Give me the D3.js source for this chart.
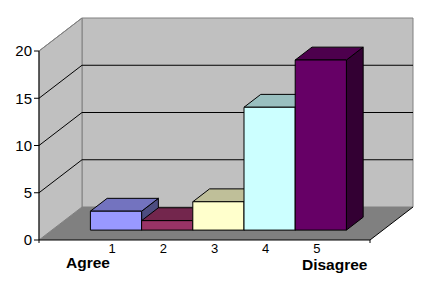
<!DOCTYPE html>
<html>
<head>
<meta charset="utf-8">
<script src="https://cdn.jsdelivr.net/npm/d3@7"></script>
<style>
  body { margin: 0; background: #fff; }
  svg { display: block; font-family: "Liberation Sans", Arial, sans-serif; }
</style>
</head>
<body>
<div class="graph"></div>
<script>
// chart data
var categories = ["1", "2", "3", "4", "5"];
var values = [2, 1, 3, 13, 18];
var barColors = ["#9999ff", "#993366", "#ffffcc", "#ccffff", "#660066"];
var yTicks = [0, 5, 10, 15, 20];
var endLabels = ["Agree", "Disagree"];

var width = 447, height = 288;

// 3d box: front plane of the floor, plus a depth offset
var depth = {dx: 43, dy: -33};
var floorLeft = 39, floorRight = 370;

// value scale on the front plane
var y = d3.scaleLinear().domain([0, 20]).range([240, 51]);

// categories on the front plane
var x = d3.scaleBand().domain(categories).range([77.5, 333.5]).paddingInner(0);

// bars sit in the middle of the floor depth
var barFront = 0.3, barBack = 0.69;

function pt(px, v, d) {
  return [px + d * depth.dx, y(v) + d * depth.dy];
}
function poly(points) {
  return points.map(function(p) { return p.join(","); }).join(" ");
}
function shade(c, f) {
  var r = d3.rgb(c);
  return d3.rgb(r.r * f, r.g * f, r.b * f);
}

var svg = d3.select(".graph").append("svg")
    .attr("width", width)
    .attr("height", height);

// back wall
svg.append("polygon")
    .attr("points", poly([pt(floorLeft, 0, 1), pt(floorLeft, 20, 1),
                          pt(floorRight, 20, 1), pt(floorRight, 0, 1)]))
    .style("fill", "#c0c0c0")
    .style("stroke", "#808080");

// side wall
svg.append("polygon")
    .attr("points", poly([pt(floorLeft, 0, 0), pt(floorLeft, 20, 0),
                          pt(floorLeft, 20, 1), pt(floorLeft, 0, 1)]))
    .style("fill", "#c0c0c0")
    .style("stroke", "#808080");

// floor
svg.append("polygon")
    .attr("points", poly([pt(floorLeft, 0, 0), pt(floorRight, 0, 0),
                          pt(floorRight, 0, 1), pt(floorLeft, 0, 1)]))
    .style("fill", "#808080");

// gridlines
yTicks.filter(function(t) { return t > 0 && t < 20; }).forEach(function(t) {
  svg.append("polyline")
      .attr("points", poly([pt(floorLeft, t, 0), pt(floorLeft, t, 1), pt(floorRight, t, 1)]))
      .style("fill", "none")
      .style("stroke", "#000")
      .style("stroke-width", 1);
});

// the bars, left to right (side, top, front)
categories.forEach(function(c, i) {
  var x0 = x(c), x1 = x(c) + x.bandwidth(), v = values[i];
  var col = barColors[i];
  var g = svg.append("g")
      .style("stroke", "#000")
      .style("stroke-width", 1)
      .style("stroke-linejoin", "round");
  g.append("polygon")
      .attr("points", poly([pt(x1, 0, barFront), pt(x1, v, barFront),
                            pt(x1, v, barBack), pt(x1, 0, barBack)]))
      .style("fill", shade(col, 0.5));
  g.append("polygon")
      .attr("points", poly([pt(x0, v, barFront), pt(x1, v, barFront),
                            pt(x1, v, barBack), pt(x0, v, barBack)]))
      .style("fill", shade(col, 0.75));
  g.append("polygon")
      .attr("points", poly([pt(x0, 0, barFront), pt(x1, 0, barFront),
                            pt(x1, v, barFront), pt(x0, v, barFront)]))
      .style("fill", col);
});

// y axis
svg.append("line")
    .attr("x1", floorLeft).attr("x2", floorLeft)
    .attr("y1", y(0)).attr("y2", y(20))
    .style("stroke", "#000");
svg.append("line")
    .attr("x1", pt(floorLeft, 20, 0)[0]).attr("y1", pt(floorLeft, 20, 0)[1])
    .attr("x2", pt(floorLeft, 20, 1)[0]).attr("y2", pt(floorLeft, 20, 1)[1])
    .style("stroke", "#808080");
svg.selectAll(".ytick")
    .data(yTicks)
  .enter().append("line")
    .attr("x1", floorLeft - 5).attr("x2", floorLeft)
    .attr("y1", function(d) { return y(d); })
    .attr("y2", function(d) { return y(d); })
    .style("stroke", "#000");
svg.selectAll(".ylabel")
    .data(yTicks)
  .enter().append("text")
    .attr("x", 32)
    .attr("y", function(d) { return y(d); })
    .attr("dy", "0.36em")
    .attr("text-anchor", "end")
    .style("font-size", "15px")
    .text(function(d) { return d; });

// x axis: front edge of floor and right edge
svg.append("polyline")
    .attr("points", poly([pt(floorLeft, 0, 0), pt(floorRight, 0, 0), pt(floorRight, 0, 1)]))
    .style("fill", "none")
    .style("stroke", "#000");
[floorLeft, floorRight].forEach(function(px) {
  svg.append("line")
      .attr("x1", px).attr("x2", px)
      .attr("y1", y(0)).attr("y2", y(0) + 3)
      .style("stroke", "#000");
});
svg.selectAll(".xlabel")
    .data(categories)
  .enter().append("text")
    .attr("x", function(d) { return x(d) + x.bandwidth() / 2 + 9; })
    .attr("y", y(0) + 13)
    .attr("text-anchor", "middle")
    .style("font-size", "13px")
    .text(function(d) { return d; });

// scale end labels
svg.append("text")
    .attr("x", 66).attr("y", 268)
    .style("font-size", "15.5px")
    .style("font-weight", "bold")
    .text(endLabels[0]);
svg.append("text")
    .attr("x", 302).attr("y", 270)
    .style("font-size", "15.5px")
    .style("font-weight", "bold")
    .text(endLabels[1]);
</script>
</body>
</html>
